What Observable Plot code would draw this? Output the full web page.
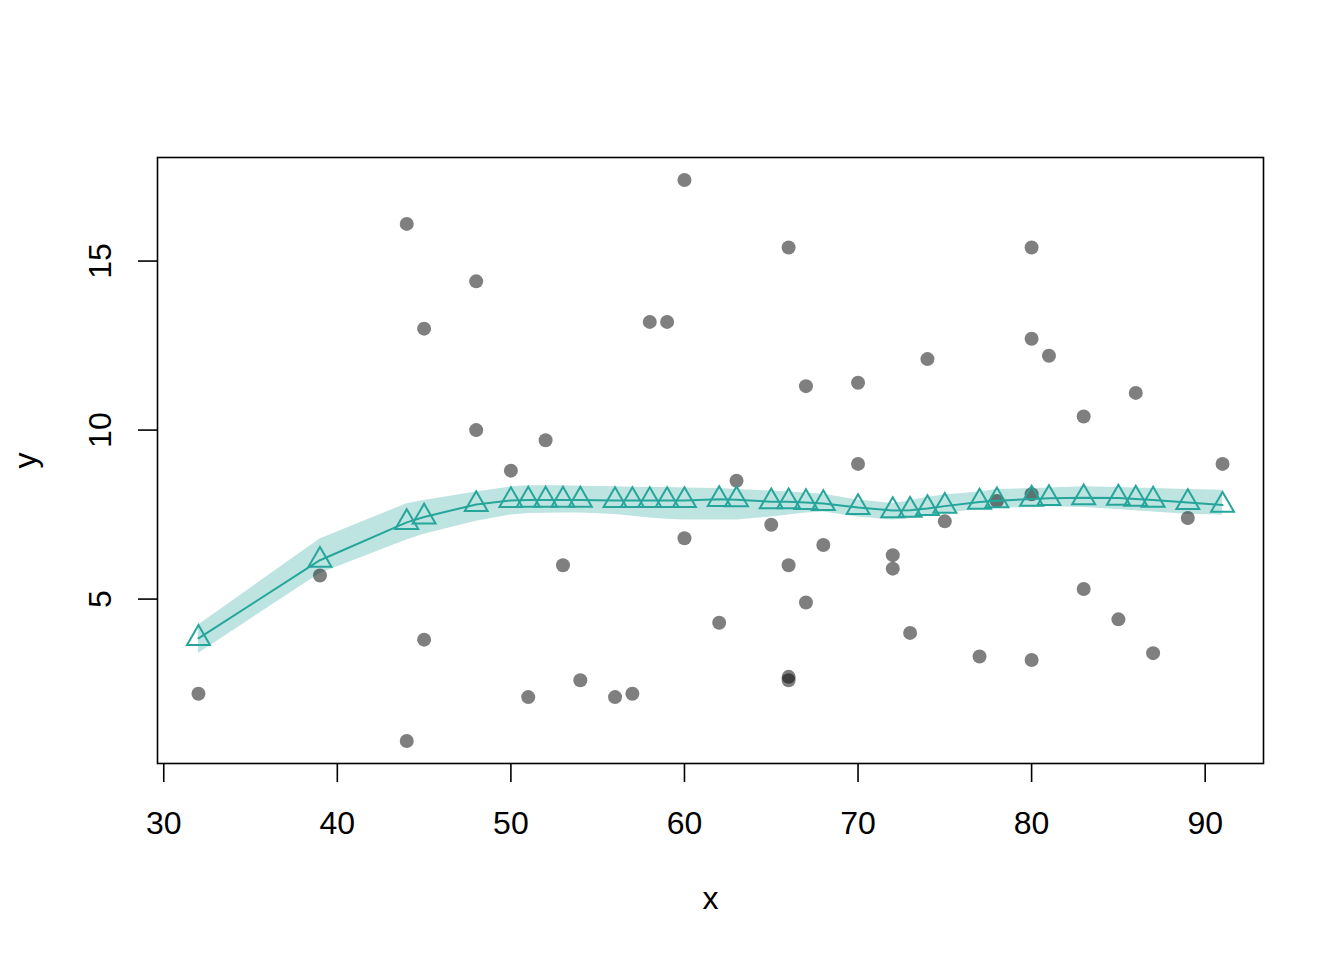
<!DOCTYPE html>
<html>
<head>
<meta charset="utf-8">
<script src="https://cdn.jsdelivr.net/npm/d3@7"></script>
<script src="https://cdn.jsdelivr.net/npm/@observablehq/plot@0.6"></script>
<style>
  html, body { margin: 0; padding: 0; background: #ffffff; }
  #chart svg { display: block; }
</style>
</head>
<body>
<div id="chart"></div>
<script>
// Scatter points
const px = [32,39,44,44,45,45,48,48,50,51,52,53,54,56,57,58,59,60,60,62,63,65,66,66,66,66,67,67,68,70,70,72,72,73,74,75,77,78,80,80,80,80,81,83,83,85,86,87,89,91];
const py = [2.2,5.7,16.1,0.8,13.0,3.8,14.4,10.0,8.8,2.1,9.7,6.0,2.6,2.1,2.2,13.2,13.2,17.4,6.8,4.3,8.5,7.2,15.4,6.0,2.7,2.6,11.3,4.9,6.6,11.4,9.0,6.3,5.9,4.0,12.1,7.3,3.3,7.9,15.4,12.7,8.1,3.2,12.2,10.4,5.3,4.4,11.1,3.4,7.4,9.0];

// Fitted curve and its band
const fitX  = [32,39,44,45,48,50,51,52,53,54,56,57,58,59,60,62,63,65,66,67,68,70,72,73,74,75,77,78,80,81,83,85,86,87,89,91];
const fitY  = [3.84,6.15,7.27,7.43,7.80,7.92,7.93,7.93,7.93,7.93,7.92,7.92,7.92,7.92,7.92,7.95,7.94,7.88,7.88,7.86,7.83,7.71,7.62,7.63,7.68,7.75,7.87,7.91,7.96,7.98,8.00,7.99,7.96,7.93,7.86,7.78];
const fitHi = [4.23,6.78,7.82,7.92,8.17,8.32,8.35,8.35,8.35,8.34,8.32,8.31,8.30,8.30,8.29,8.27,8.24,8.20,8.17,8.14,8.10,7.93,7.83,7.91,8.01,8.08,8.17,8.24,8.27,8.29,8.32,8.30,8.29,8.27,8.24,8.22];
const fitLo = [3.39,5.76,6.75,6.92,7.30,7.49,7.53,7.54,7.55,7.55,7.50,7.45,7.40,7.36,7.34,7.34,7.34,7.43,7.49,7.55,7.58,7.43,7.34,7.38,7.49,7.55,7.65,7.68,7.71,7.73,7.71,7.65,7.61,7.58,7.51,7.49];

// Axes
const xTicks = [30,40,50,60,70,80,90];
const yTicks = [5,10,15];
const xTitle = ["x"];
const yTitle = ["y"];

const points = px.map((x, i) => ({x, y: py[i]}));
const fit = fitX.map((x, i) => ({x, y: fitY[i], lo: fitLo[i], hi: fitHi[i]}));

// R-style 4% padding of data range
function pad(ext) { const d = (ext[1] - ext[0]) * 0.04; return [ext[0] - d, ext[1] + d]; }
const xDomain = pad(d3.extent(px));
const yDomain = pad(d3.extent(py));

const teal = "#26A69A";
const font = "'Liberation Sans', Arial, Helvetica, sans-serif";

const chart = Plot.plot({
  width: 1344,
  height: 960,
  marginLeft: 157,
  marginRight: 81,
  marginTop: 157,
  marginBottom: 197,
  style: {background: "#ffffff", fontFamily: font, color: "black"},
  x: {domain: xDomain},
  y: {domain: yDomain},
  marks: [
    Plot.areaY(fit, {x: "x", y1: "lo", y2: "hi", fill: teal, fillOpacity: 0.3, curve: "linear"}),
    Plot.dot(points, {x: "x", y: "y", r: 7, fill: "black", fillOpacity: 0.5, stroke: "none"}),
    Plot.line(fit, {x: "x", y: "y", stroke: teal, strokeWidth: 2, curve: "linear"}),
    Plot.dot(fit, {x: "x", y: "y", symbol: "triangle", r: 8.5, stroke: teal, strokeWidth: 2, fill: "none"}),
    Plot.frame({stroke: "black", strokeWidth: 1.6}),
    Plot.axisX(xTicks, {tickSize: 19, tickFormat: () => "", strokeWidth: 1.6, label: null}),
    Plot.axisY(yTicks, {tickSize: 19, tickFormat: () => "", strokeWidth: 1.6, label: null}),
    Plot.text(xTicks, {x: d => d, frameAnchor: "bottom", dy: 60, text: d => String(d), fontSize: 32, lineAnchor: "middle", fill: "black"}),
    Plot.text(yTicks, {y: d => d, frameAnchor: "left", dx: -57, rotate: -90, text: d => String(d), fontSize: 32, lineAnchor: "middle", textAnchor: "middle", fill: "black"}),
    Plot.text(xTitle, {frameAnchor: "bottom", dy: 135, text: d => d, fontSize: 32, lineAnchor: "middle", fill: "black"}),
    Plot.text(yTitle, {frameAnchor: "left", dx: -132, rotate: -90, text: d => d, fontSize: 32, lineAnchor: "middle", textAnchor: "middle", fill: "black"})
  ]
});
document.getElementById("chart").appendChild(chart);
</script>
</body>
</html>
